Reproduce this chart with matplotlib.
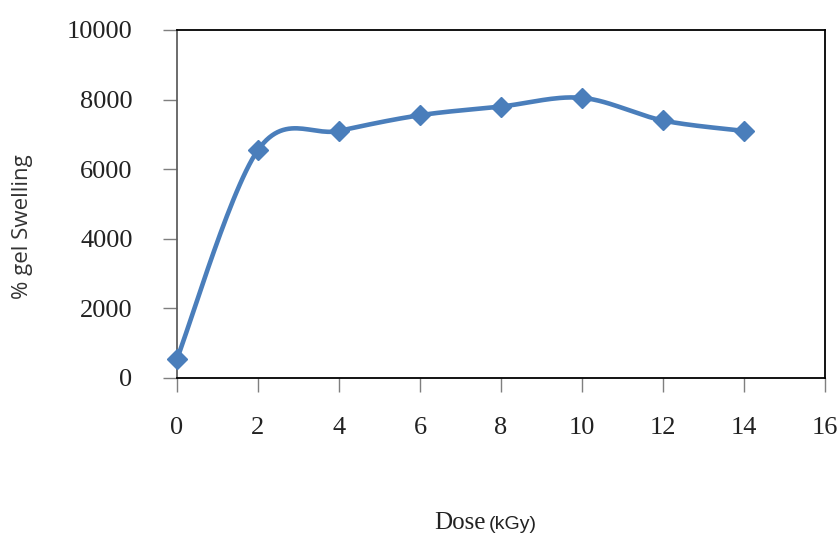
import numpy as np
import matplotlib.pyplot as plt

# data
dose = [0, 2, 4, 6, 8, 10, 12, 14]
swelling = [550, 6550, 7100, 7550, 7800, 8050, 7400, 7100]
x_ticks = [0, 2, 4, 6, 8, 10, 12, 14, 16]
y_ticks = [0, 2000, 4000, 6000, 8000, 10000]

blue = '#4a7ebb'


def smooth(xs, ys, sx, sy, n=30):
    # Excel-like smoothing: Bezier segments with Catmull-Rom control points,
    # computed in screen-scaled coordinates
    p = np.column_stack([np.asarray(xs) * sx, np.asarray(ys) * sy])
    out = []
    for i in range(len(p) - 1):
        p0 = p[i - 1] if i > 0 else p[i]
        p1, p2 = p[i], p[i + 1]
        p3 = p[i + 2] if i + 2 < len(p) else p[i + 1]
        c1 = p1 + (p2 - p0) / 6
        c2 = p2 - (p3 - p1) / 6
        t = np.linspace(0, 1, n)[:, None]
        seg = ((1 - t) ** 3) * p1 + 3 * ((1 - t) ** 2) * t * c1 + 3 * (1 - t) * t ** 2 * c2 + t ** 3 * p2
        out.append(seg if i == 0 else seg[1:])
    out = np.vstack(out)
    return out[:, 0] / sx, out[:, 1] / sy


fig = plt.figure(figsize=(8.4, 5.43), dpi=100)
ax = fig.add_axes([0.2107, 0.3039, 0.7713, 0.6409])

sx_, sy_ = smooth(dose, swelling, 648 / 16, 348 / 10000)
ax.plot(sx_, sy_, color=blue, lw=3.3, solid_capstyle='round', zorder=3)
ax.plot(dose, swelling, 'D', color=blue, markersize=10.5, zorder=4, clip_on=False)

ax.set_xlim(0, 16)
ax.set_ylim(0, 10000)
ax.set_xticks(x_ticks)
ax.set_yticks(y_ticks)
ax.set_xticklabels([str(v) for v in x_ticks], family='Liberation Serif', fontsize=19, color='#222222')
ax.set_yticklabels([str(v) for v in y_ticks], family='Liberation Serif', fontsize=19, color='#222222')
ax.tick_params(axis='x', direction='out', length=10, width=1, color='#7f7f7f', pad=18)
ax.tick_params(axis='y', direction='out', length=10, width=1, color='#7f7f7f', pad=22)

for s in ax.spines.values():
    s.set_linewidth(1.3)
    s.set_color('black')
ax.spines['left'].set_color('#606060')

fig.text(0.027, 0.582, '% gel Swelling', rotation=90, ha='center', va='center',
         family='Open Sans', fontsize=16, color='#333333')
fig.text(0.578, 0.025, 'Dose', ha='right', va='baseline', family='Liberation Serif',
         fontsize=18, color='#222222')
fig.text(0.582, 0.025, '(kGy)', ha='left', va='baseline', family='Liberation Sans',
         fontsize=14, color='#222222')

fig.savefig('out.png', dpi=100)
